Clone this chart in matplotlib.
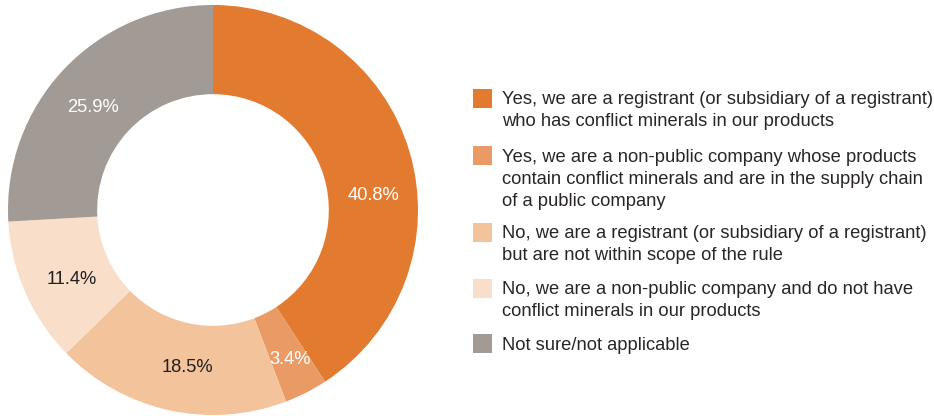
import matplotlib.pyplot as plt
from matplotlib.patches import Rectangle

# survey answers, clockwise from 12 o'clock
answers = [
    ["Yes, we are a registrant (or subsidiary of a registrant)",
     "who has conflict minerals in our products"],
    ["Yes, we are a non-public company whose products",
     "contain conflict minerals and are in the supply chain",
     "of a public company"],
    ["No, we are a registrant (or subsidiary of a registrant)",
     "but are not within scope of the rule"],
    ["No, we are a non-public company and do not have",
     "conflict minerals in our products"],
    ["Not sure/not applicable"],
]
shares = [40.8, 3.4, 18.5, 11.4, 25.9]
colors = ["#E27B30", "#EA9B65", "#F3C39B", "#F9DFCA", "#A29A94"]
label_colors = ["white", "white", "#231F20", "#231F20", "white"]
# where the percentage labels sit inside the ring (pie data units)
label_pos = [(0.785, 0.073), (0.376, -0.727), (-0.127, -0.766),
             (-0.688, -0.341), (-0.585, 0.498)]

plt.rcParams['font.family'] = ['Liberation Sans', 'DejaVu Sans']

W, H = 934, 416
fig = plt.figure(figsize=(W / 100, H / 100), dpi=100)

# donut
ax = fig.add_axes([8 / W, 1 / H, 410 / W, 410 / H])
wedges, _, pcts = ax.pie(
    shares, colors=colors, startangle=90, counterclock=False,
    autopct=lambda p: f"{p:.1f}%", pctdistance=0.785,
    wedgeprops=dict(width=0.435, linewidth=0),
    textprops=dict(fontsize=13.2),
)
for t, c, p in zip(pcts, label_colors, label_pos):
    t.set_color(c)
    t.set_position(p)
ax.set_aspect('equal')
ax.set_xlim(-1, 1)
ax.set_ylim(-1, 1)

# legend drawn by hand so the swatch sits on the first line of each entry
lg = fig.add_axes([0, 0, 1, 1])
lg.set_xlim(0, W)
lg.set_ylim(H, 0)
lg.axis('off')
row_y = [98, 155, 232, 288, 343]
for y, lines, c in zip(row_y, answers, colors):
    lg.add_patch(Rectangle((473, y - 9.5), 19, 19, facecolor=c, edgecolor='none'))
    for i, line in enumerate(lines):
        lg.text(502, y + 22 * i, line, fontsize=13.25, color="#2A2627",
                va='center_baseline', ha='left')

fig.savefig("out.png", dpi=100)
